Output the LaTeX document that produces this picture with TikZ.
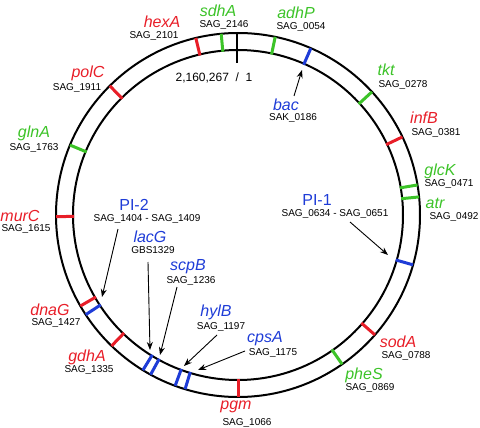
\documentclass[tikz,border=0pt]{standalone}
\usepackage{fontspec}
\setmainfont{Liberation Sans}
\usetikzlibrary{arrows.meta}
\definecolor{gred}{RGB}{232,30,40}
\definecolor{ggreen}{RGB}{60,195,40}
\definecolor{gblue}{RGB}{30,60,215}
\tikzset{
  gene/.style={inner sep=0pt, font=\fontsize{16}{18}\selectfont\itshape},
  pil/.style={inner sep=0pt, font=\fontsize{16}{18}\selectfont},
  tag/.style={inner sep=0pt, font=\fontsize{10}{12}\selectfont},
  ring/.style={line width=2pt, black},
  tickline/.style={line width=3pt},
  pointer/.style={line width=0.9pt, -{Stealth[length=8pt,width=6pt]}}
}
\newcommand\mytick[2]{\draw[tickline,#2] ({238+164*sin(#1)},{215-164*cos(#1)}) -- ({238+182*sin(#1)},{215-182*cos(#1)});}
\begin{document}
\begin{tikzpicture}[x=1pt,y=-1pt]
\useasboundingbox (0,0) rectangle (480,428);
% rings
\coordinate (C) at (238,215);
\draw[ring] (C) circle[radius=182];
\draw[ring] (C) circle[radius=165];
\draw[ring] (237,34) -- (237,63);
% ticks
\mytick{-5.3}{ggreen}
\mytick{-13.4}{gred}
\mytick{-44.8}{gred}
\mytick{-67.4}{ggreen}
\mytick{-90.5}{gred}
\mytick{240}{gred}
\mytick{236.8}{gblue}
\mytick{224}{gred}
\mytick{211.5}{gblue}
\mytick{208.7}{gblue}
\mytick{200.2}{gblue}
\mytick{196.9}{gblue}
\mytick{180}{gred}
\mytick{145.1}{ggreen}
\mytick{131.2}{gred}
\mytick{105.9}{gblue}
\mytick{84.3}{ggreen}
\mytick{80.5}{ggreen}
\mytick{64.6}{gred}
\mytick{47.4}{ggreen}
\mytick{23.6}{gblue}
\mytick{11.8}{ggreen}
% origin label
\node[inner sep=0pt, font=\fontsize{12}{14}\selectfont] (ori) at (214,78) {2,160,267 \ / \ 1};
% labels
\node[gene,gred] (hexA) at (162,22) {hexA};
\node[tag] (hexAt) at (154,36) {SAG\_2101};
\node[gene,ggreen] (sdhA) at (218,11) {sdhA};
\node[tag] (sdhAt) at (224,25) {SAG\_2146};
\node[gene,ggreen] (adhP) at (296,13) {adhP};
\node[tag] (adhPt) at (301,27) {SAG\_0054};
\node[gene,ggreen] (tkt) at (386,70) {tkt};
\node[tag] (tktt) at (403,85) {SAG\_0278};
\node[gene,gblue] (bac) at (286,105) {bac};
\node[tag] (bact) at (293,118) {SAK\_0186};
\node[gene,gred] (infB) at (424,118) {infB};
\node[tag] (infBt) at (436,133) {SAG\_0381};
\node[gene,ggreen] (glcK) at (440,171) {glcK};
\node[tag] (glcKt) at (449,184) {SAG\_0471};
\node[gene,ggreen] (atr) at (435,203) {atr};
\node[tag] (atrt) at (454,217) {SAG\_0492};
\node[pil,gblue] (PI1) at (317,200) {PI-1};
\node[tag] (PI1t) at (335,214) {SAG\_0634 - SAG\_0651};
\node[gene,gred] (sodA) at (398,342) {sodA};
\node[tag] (sodAt) at (406,356) {SAG\_0788};
\node[gene,ggreen] (pheS) at (364,375) {pheS};
\node[tag] (pheSt) at (370,388) {SAG\_0869};
\node[gene,gred] (pgm) at (236,407) {pgm};
\node[tag] (pgmt) at (247,423) {SAG\_1066};
\node[gene,gblue] (cpsA) at (265,339) {cpsA};
\node[tag] (cpsAt) at (273,353) {SAG\_1175};
\node[gene,gblue] (hylB) at (216,312) {hylB};
\node[tag] (hylBt) at (221,327) {SAG\_1197};
\node[gene,gblue] (lacG) at (150,237) {lacG};
\node[tag] (lacGt) at (153,250) {GBS1329};
\node[gene,gblue] (scpB) at (188,267) {scpB};
\node[tag] (scpBt) at (191,281) {SAG\_1236};
\node[pil,gblue] (PI2) at (134,205) {PI-2};
\node[tag] (PI2t) at (147,219) {SAG\_1404 - SAG\_1409};
\node[gene,gred] (murC) at (20,216) {murC};
\node[tag] (murCt) at (26,229) {SAG\_1615};
\node[gene,gred] (dnaG) at (50,310) {dnaG};
\node[tag] (dnaGt) at (56,323) {SAG\_1427};
\node[gene,gred] (gdhA) at (87,357) {gdhA};
\node[tag] (gdhAt) at (89,370) {SAG\_1335};
\node[gene,ggreen] (glnA) at (34,133) {glnA};
\node[tag] (glnAt) at (34,148) {SAG\_1763};
\node[gene,gred] (polC) at (88,73) {polC};
\node[tag] (polCt) at (77,88) {SAG\_1911};
% arrows
\coordinate (bacS) at (294,96);  \coordinate (bacE) at (302,70);
\coordinate (PI1S) at (350,222); \coordinate (PI1E) at (388,255);
\coordinate (PI2S) at (118,229); \coordinate (PI2E) at (102,297);
\coordinate (lacGS) at (148,262); \coordinate (lacGE) at (150,350);
\coordinate (scpBS) at (177,287); \coordinate (scpBE) at (160,355);
\coordinate (hylBS) at (217,335); \coordinate (hylBE) at (184,366);
\coordinate (cpsAS) at (245,351); \coordinate (cpsAE) at (198,370);
\draw[pointer] (bacS) -- (bacE);
\draw[pointer] (PI1S) -- (PI1E);
\draw[pointer] (PI2S) -- (PI2E);
\draw[pointer] (lacGS) -- (lacGE);
\draw[pointer] (scpBS) -- (scpBE);
\draw[pointer] (hylBS) -- (hylBE);
\draw[pointer] (cpsAS) -- (cpsAE);
\end{tikzpicture}
\end{document}
